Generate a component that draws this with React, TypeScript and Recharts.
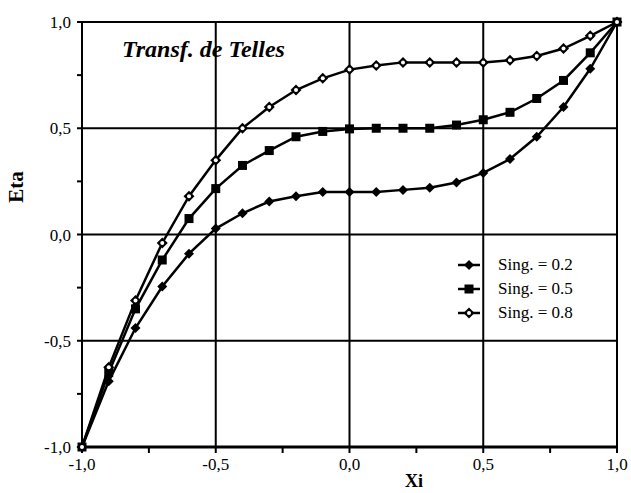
import * as React from 'react';
import {
  LineChart, Line, XAxis, YAxis, ReferenceLine, Legend,
} from 'recharts';

const xi = [-1, -0.9, -0.8, -0.7, -0.6, -0.5, -0.4, -0.3, -0.2, -0.1, 0, 0.1, 0.2, 0.3, 0.4, 0.5, 0.6, 0.7, 0.8, 0.9, 1];
const sing02 = [-1, -0.69, -0.44, -0.245, -0.09, 0.028, 0.1, 0.155, 0.18, 0.2, 0.2, 0.2, 0.21, 0.22, 0.245, 0.29, 0.355, 0.46, 0.6, 0.78, 1];
const sing05 = [-1, -0.65, -0.35, -0.12, 0.075, 0.216, 0.325, 0.395, 0.46, 0.485, 0.497, 0.5, 0.5, 0.5, 0.515, 0.54, 0.575, 0.64, 0.725, 0.855, 1];
const sing08 = [-1, -0.625, -0.31, -0.04, 0.18, 0.35, 0.5, 0.6, 0.68, 0.735, 0.776, 0.795, 0.81, 0.81, 0.81, 0.81, 0.82, 0.84, 0.875, 0.935, 1];
const axisTicks = [-1, -0.75, -0.5, -0.25, 0, 0.25, 0.5, 0.75, 1];
const gridLines = [-0.5, 0, 0.5, 1];
const seriesNames = ['Sing. = 0.2', 'Sing. = 0.5', 'Sing. = 0.8'];

const FONT = 'Liberation Serif, DejaVu Serif, serif';

const data = xi.map((x, i) => ({ xi: x, s02: sing02[i], s05: sing05[i], s08: sing08[i] }));

function fmt(v: number): string {
  if (Math.abs(v * 2 - Math.round(v * 2)) > 1e-6) return '';
  return v.toFixed(1).replace('.', ',');
}

function markerPath(kind: string, cx: number, cy: number, key?: string) {
  if (kind === 'square') {
    return <rect key={key} x={cx - 4.5} y={cy - 4.5} width={9} height={9} fill="#000" />;
  }
  if (kind === 'open') {
    return (
      <g key={key}>
        <path d={`M${cx},${cy - 5.5}L${cx + 5.5},${cy}L${cx},${cy + 5.5}L${cx - 5.5},${cy}Z`} fill="#000" />
        <circle cx={cx} cy={cy} r={2} fill="#fff" />
      </g>
    );
  }
  return <path key={key} d={`M${cx},${cy - 5}L${cx + 5},${cy}L${cx},${cy + 5}L${cx - 5},${cy}Z`} fill="#000" />;
}

const dotFor = (kind: string) => (p: any) => markerPath(kind, p.cx, p.cy, `${kind}-${p.index}`);

const kinds = ['diamond', 'square', 'open'];

function LegendBox() {
  return (
    <div style={{ fontFamily: FONT, fontSize: 17, color: '#000' }}>
      {seriesNames.map((n, i) => (
        <div key={n} style={{ display: 'flex', alignItems: 'center', height: 24 }}>
          <svg width={26} height={14} style={{ marginRight: 16 }}>
            <line x1={2} y1={7} x2={24} y2={7} stroke="#000" strokeWidth={2.5} />
            {markerPath(kinds[i], 13, 7)}
          </svg>
          <span>{n}</span>
        </div>
      ))}
    </div>
  );
}

export default function App() {
  return (
    <div style={{ position: 'absolute', left: 0, top: 0, width: 631, height: 493, background: '#fff', fontFamily: FONT }}>
      <LineChart width={631} height={493} data={data} margin={{ top: 22, right: 14, bottom: 0, left: 2 }}>
        <XAxis
          dataKey="xi"
          type="number"
          domain={[-1, 1]}
          ticks={axisTicks}
          tickFormatter={fmt}
          height={46}
          tickSize={6}
          tickMargin={5}
          axisLine={{ stroke: '#000', strokeWidth: 3 }}
          tickLine={{ stroke: '#000', strokeWidth: 2 }}
          tick={{ fill: '#000', fontSize: 17, fontFamily: FONT }}
          label={{
            content: () => (
              <text x={414} y={487} textAnchor="middle" fontFamily={FONT} fontWeight="bold" fontSize={18} fill="#000">Xi</text>
            ),
          }}
        />
        <YAxis
          type="number"
          domain={[-1, 1]}
          ticks={axisTicks}
          tickFormatter={fmt}
          width={80}
          tickSize={5}
          tickMargin={6}
          axisLine={{ stroke: '#000', strokeWidth: 2 }}
          tickLine={{ stroke: '#000', strokeWidth: 2 }}
          tick={{ fill: '#000', fontSize: 17, fontFamily: FONT }}
          label={{
            content: () => (
              <text x={23} y={187} transform="rotate(-90 23 187)" textAnchor="middle" fontFamily={FONT} fontWeight="bold" fontSize={21} fill="#000">Eta</text>
            ),
          }}
        />
        {gridLines.map(v => (
          <ReferenceLine key={`x${v}`} x={v} stroke="#000" strokeWidth={2} />
        ))}
        {gridLines.map(v => (
          <ReferenceLine key={`y${v}`} y={v} stroke="#000" strokeWidth={2} />
        ))}
        <Legend
          layout="vertical"
          align="center"
          verticalAlign="middle"
          wrapperStyle={{ left: 456, top: 253, width: 150 }}
          content={() => <LegendBox />}
        />
        <Line dataKey="s02" name={seriesNames[0]} stroke="#000" strokeWidth={2.5} dot={dotFor('diamond')} isAnimationActive={false} />
        <Line dataKey="s05" name={seriesNames[1]} stroke="#000" strokeWidth={2.5} dot={dotFor('square')} isAnimationActive={false} />
        <Line dataKey="s08" name={seriesNames[2]} stroke="#000" strokeWidth={2.5} dot={dotFor('open')} isAnimationActive={false} />
      </LineChart>
      <div
        style={{
          position: 'absolute', left: 122, top: 36, fontFamily: FONT, fontStyle: 'italic',
          fontWeight: 'bold', fontSize: 24, color: '#000', whiteSpace: 'nowrap',
        }}
      >
        Transf. de Telles
      </div>
    </div>
  );
}
